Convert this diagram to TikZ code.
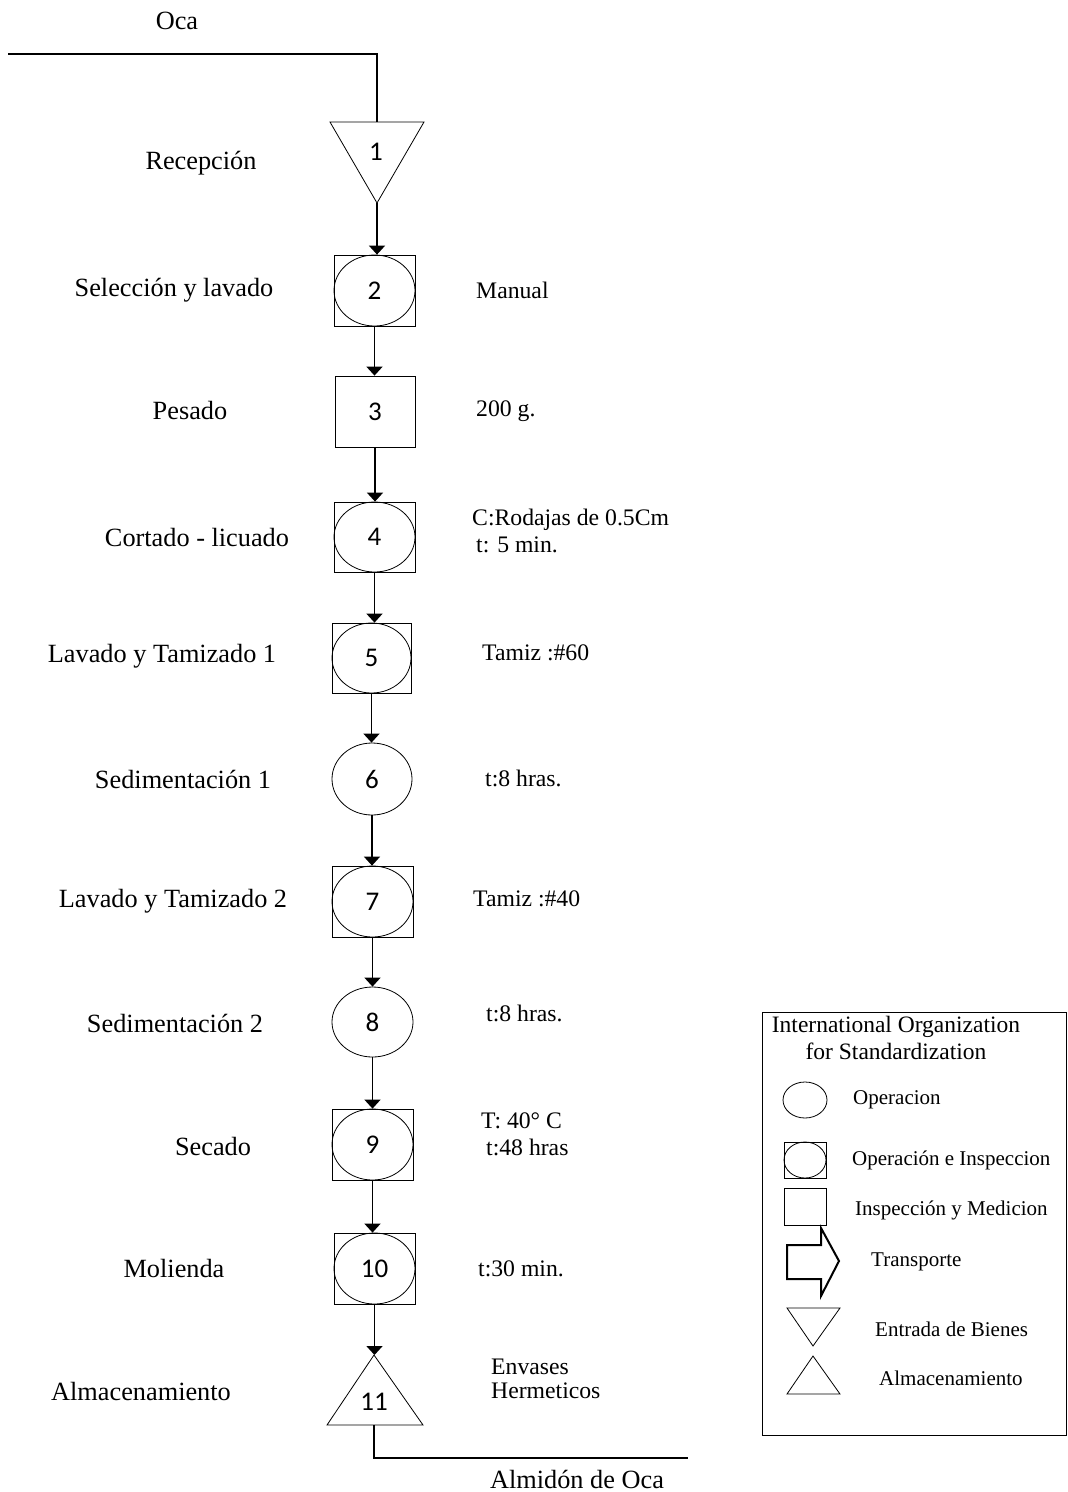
\documentclass[tikz,border=0pt]{standalone}
\usepackage{fontspec}
\setmainfont{Liberation Serif}
\newfontfamily\numfont{Carlito}
\usetikzlibrary{arrows.meta,shapes.geometric}
\tikzset{
  lab/.style={font=\fontsize{26.3}{29}\selectfont, inner sep=0pt},
  note/.style={font=\fontsize{23.7}{26}\selectfont, inner sep=0pt, anchor=west},
  leg/.style={font=\fontsize{21}{23}\selectfont, inner sep=0pt, anchor=west},
  num/.style={font=\numfont\fontsize{27}{29}\selectfont, inner sep=0pt},
  boxshape/.style={draw, line width=0.8pt, rectangle, inner sep=0pt},
  ellshape/.style={draw, line width=0.8pt, ellipse, inner sep=0pt},
  flow/.style={line width=1.6pt, -{Triangle[width=16pt,length=9pt]}},
  plain/.style={line width=1.6pt},
  thin/.style={line width=0.8pt}
}
\begin{document}
\begin{tikzpicture}[x=1pt,y=-1pt]
\useasboundingbox (0,0) rectangle (1068,1492);

% ---- process shapes ----
% 1 triangle (entrada)
\coordinate (t1l) at (330,122);
\coordinate (t1r) at (424,122);
\coordinate (t1a) at (377,203);
\coordinate (t1top) at (377,122);
\draw[thin] (t1l) -- (t1r) -- (t1a) -- cycle;
\node[num] (n1) at (376,152) {1};
\coordinate (start) at (8,54);
\coordinate (startc) at (377,54);

% 2
\node[boxshape, minimum width=81pt, minimum height=71pt] (n2) at (374.5,290.5) {};
\node[ellshape, minimum width=81pt, minimum height=71pt, num] (e2) at (n2) {2};
% 3
\node[boxshape, minimum width=80pt, minimum height=71pt, num] (n3) at (375,411.5) {3};
% 4
\node[boxshape, minimum width=81pt, minimum height=70pt] (n4) at (374.5,537) {};
\node[ellshape, minimum width=81pt, minimum height=70pt, num] (e4) at (n4) {4};
% 5
\node[boxshape, minimum width=79pt, minimum height=70pt] (n5) at (371.5,658) {};
\node[ellshape, minimum width=79pt, minimum height=70pt, num] (e5) at (n5) {5};
% 6
\node[ellshape, minimum width=80pt, minimum height=72pt, num] (n6) at (372,779) {6};
% 7
\node[boxshape, minimum width=81pt, minimum height=71pt] (n7) at (372.5,901.5) {};
\node[ellshape, minimum width=81pt, minimum height=71pt, num] (e7) at (n7) {7};
% 8
\node[ellshape, minimum width=81pt, minimum height=70pt, num] (n8) at (372.5,1022) {8};
% 9
\node[boxshape, minimum width=81pt, minimum height=71pt] (n9) at (372.5,1144.5) {};
\node[ellshape, minimum width=81pt, minimum height=71pt, num] (e9) at (n9) {9};
% 10
\node[boxshape, minimum width=81pt, minimum height=71pt] (n10) at (374.5,1268.5) {};
\node[ellshape, minimum width=81pt, minimum height=71pt, num] (e10) at (n10) {10};
% 11 triangle (almacenamiento)
\coordinate (t11a) at (374,1355);
\coordinate (t11l) at (327,1425);
\coordinate (t11r) at (423,1425);
\coordinate (t11b) at (374,1425);
\draw[thin] (t11a) -- (t11r) -- (t11l) -- cycle;
\node[num] (n11) at (374,1402) {11};
\coordinate (endc) at (374,1458);
\coordinate (endr) at (688,1458);

% ---- connectors ----
\draw[plain] (start) -- (startc) -- (t1top);
\draw[flow] (t1a) -- (t1a |- n2.north);
\draw[flow] (n2.south) -- (n2.south |- n3.north);
\draw[flow] (n3.south) -- (n3.south |- n4.north);
\draw[flow] (n4.south) -- (n4.south |- n5.north);
\draw[flow] (n5.south) -- (n5.south |- n6.north);
\draw[flow] (n6.south) -- (n6.south |- n7.north);
\draw[flow] (n7.south) -- (n7.south |- n8.north);
\draw[flow] (n8.south) -- (n8.south |- n9.north);
\draw[flow] (n9.south) -- (n9.south |- n10.north);
\draw[flow] (n10.south) -- (n10.south |- t11a);
\draw[plain] (t11b) -- (endc) -- (endr);

% ---- left labels ----
\node[lab] (l0) at (177,21) {Oca};
\node[lab] (l1) at (201,163) {Recepción};
\node[lab] (l2) at (174,290) {Selección y lavado};
\node[lab] (l3) at (190,410) {Pesado};
\node[lab] (l4) at (197,537) {Cortado - licuado};
\node[lab] (l5) at (162,656) {Lavado y Tamizado 1};
\node[lab] (l6) at (183,779) {Sedimentación 1};
\node[lab] (l7) at (173,901) {Lavado y Tamizado 2};
\node[lab] (l8) at (175,1023) {Sedimentación 2};
\node[lab] (l9) at (213,1146) {Secado};
\node[lab] (l10) at (174,1268) {Molienda};
\node[lab] (l11) at (141,1391) {Almacenamiento};
\node[lab] (lend) at (577,1479) {Almidón de Oca};

% ---- right notes ----
\node[note] (r2) at (476,290) {Manual};
\node[note] (r3) at (476,411) {200 g.};
\node[note] (r4a) at (472,520) {C:Rodajas de 0.5Cm};
\node[note] (r4b) at (476,545) {t: 5 min.};
\node[note] (r5) at (482,653) {Tamiz :\#60};
\node[note] (r6) at (485,778) {t:8 hras.};
\node[note] (r7) at (473,899) {Tamiz :\#40};
\node[note] (r8) at (486,1013) {t:8 hras.};
\node[note] (r9a) at (481,1121) {T: 40° C};
\node[note] (r9b) at (486,1147) {t:48 hras};
\node[note] (r10) at (478,1269) {t:30 min.};
\node[note] (r11a) at (491,1367) {Envases};
\node[note] (r11b) at (491,1391) {Hermeticos};

% ---- legend ----
\draw[line width=1pt] (762,1012) rectangle (1066,1435);
\node[font=\fontsize{23.5}{27}\selectfont, align=center, inner sep=0pt] (lt) at (896,1038) {International Organization\\for Standardization};
\node[ellshape, minimum width=44pt, minimum height=36pt] (g1) at (805,1100) {};
\node[leg] (g1t) at (853,1100) {Operacion};
\node[boxshape, minimum width=42pt, minimum height=36pt] (g2) at (805,1160) {};
\node[ellshape, minimum width=42pt, minimum height=36pt] (g2e) at (g2) {};
\node[leg] (g2t) at (852,1160) {Operación e Inspeccion};
\node[boxshape, minimum width=42pt, minimum height=37pt] (g3) at (805,1206.5) {};
\node[leg] (g3t) at (855,1210) {Inspección y Medicion};
\draw[line width=2pt, line join=miter] (787,1245) -- (821,1245) -- (821,1228) -- (839,1261) -- (821,1296) -- (821,1279) -- (787,1279) -- cycle;
\node[leg] (g4t) at (871,1262) {Transporte};
\draw[thin] (787,1308) -- (840,1308) -- (813,1346) -- cycle;
\node[leg] (g5t) at (875,1329) {Entrada de Bienes};
\draw[thin] (813,1356) -- (840,1394) -- (787,1394) -- cycle;
\node[leg] (g6t) at (879,1378) {Almacenamiento};
\end{tikzpicture}
\end{document}
